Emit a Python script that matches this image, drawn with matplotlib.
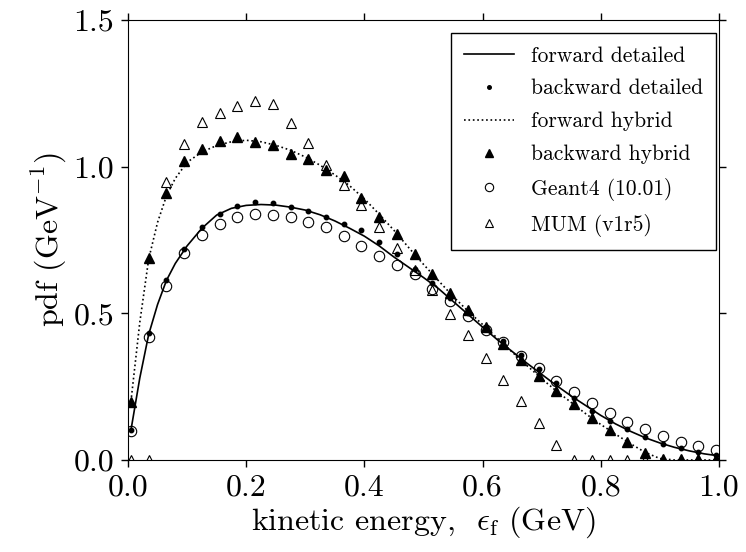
import numpy as np
import matplotlib
matplotlib.use("Agg")
import matplotlib.pyplot as plt

plt.rcParams.update({
    "font.family": "serif",
    "font.serif": ["cmr10"],
    "mathtext.fontset": "cm",
    "axes.unicode_minus": False,
    "axes.formatter.use_mathtext": False,
})

# Kinetic-energy bin centres for the sampled (Monte Carlo) histograms
energy_bins = [0.005 + 0.03 * k for k in range(34)]

backward_detailed = [0.102, 0.432, 0.614, 0.719, 0.796, 0.838, 0.867, 0.881,
                     0.876, 0.861, 0.850, 0.827, 0.805, 0.783, 0.743, 0.702,
                     0.652, 0.603, 0.553, 0.501, 0.452, 0.405, 0.357, 0.310,
                     0.262, 0.210, 0.167, 0.133, 0.105, 0.078, 0.055, 0.040,
                     0.027, 0.018]

backward_hybrid = [0.199, 0.688, 0.910, 1.018, 1.060, 1.087, 1.101, 1.083,
                   1.075, 1.044, 1.026, 0.990, 0.967, 0.893, 0.830, 0.771,
                   0.703, 0.635, 0.568, 0.511, 0.454, 0.397, 0.340, 0.285,
                   0.235, 0.191, 0.144, 0.102, 0.063, 0.023, 0.005, 0.003,
                   0.002, 0.002]

geant4 = [0.100, 0.420, 0.592, 0.705, 0.768, 0.805, 0.830, 0.838,
          0.836, 0.828, 0.813, 0.794, 0.762, 0.731, 0.697, 0.666,
          0.634, 0.584, 0.543, 0.491, 0.444, 0.402, 0.355, 0.315,
          0.271, 0.232, 0.195, 0.160, 0.131, 0.105, 0.082, 0.062,
          0.048, 0.034]

mum = [0.0, 0.0, 0.947, 1.078, 1.151, 1.183, 1.208, 1.225,
       1.214, 1.149, 1.081, 1.007, 0.939, 0.870, 0.796, 0.722,
       0.648, 0.578, 0.499, 0.427, 0.347, 0.273, 0.202, 0.127,
       0.051, 0.0, 0.0, 0.0, 0.0, 0.0, 0.0, 0.0, 0.0, 0.0]

# Deterministic (forward) solutions on a finer energy grid
energy_curve = [0.005, 0.02, 0.035, 0.05, 0.065, 0.08, 0.1, 0.125, 0.15,
                0.175, 0.2, 0.225, 0.25, 0.275, 0.3, 0.325, 0.35, 0.375,
                0.4, 0.425, 0.45, 0.475, 0.5, 0.525, 0.55, 0.575, 0.6,
                0.625, 0.65, 0.675, 0.7, 0.725, 0.75, 0.775, 0.8, 0.825,
                0.85, 0.875, 0.9, 0.925, 0.95, 0.975, 1.0]

forward_detailed = [0.102, 0.28, 0.428, 0.53, 0.612, 0.67, 0.73, 0.79, 0.835,
                    0.858, 0.868, 0.871, 0.869, 0.862, 0.852, 0.836, 0.815,
                    0.79, 0.763, 0.73, 0.692, 0.657, 0.622, 0.585, 0.541,
                    0.497, 0.453, 0.41, 0.37, 0.33, 0.292, 0.254, 0.218,
                    0.185, 0.152, 0.123, 0.098, 0.076, 0.058, 0.043, 0.031,
                    0.021, 0.014]

forward_hybrid = [0.2, 0.47, 0.685, 0.81, 0.9, 0.96, 1.015, 1.05, 1.072,
                  1.085, 1.09, 1.085, 1.073, 1.056, 1.033, 1.005, 0.972,
                  0.935, 0.89, 0.838, 0.783, 0.724, 0.667, 0.612, 0.558,
                  0.508, 0.462, 0.415, 0.368, 0.322, 0.277, 0.235, 0.196,
                  0.157, 0.121, 0.088, 0.056, 0.026, 0.005, 0.0, 0.0, 0.0,
                  0.0]

x_ticks = [0.0, 0.2, 0.4, 0.6, 0.8, 1.0]
y_ticks = [0.0, 0.5, 1.0, 1.5]

fig = plt.figure(figsize=(7.46, 5.52), dpi=100)
ax = fig.add_axes([128 / 746, 1 - 460 / 552, 591 / 746, 440 / 552])

ax.plot(energy_curve, forward_detailed, "-", color="black", lw=1.2,
        label="forward detailed")
ax.plot(energy_bins, backward_detailed, "o", color="black", ms=3.2,
        label="backward detailed")
ax.plot(energy_curve, forward_hybrid, ":", color="black", lw=1.2,
        label="forward hybrid")
ax.plot(energy_bins, backward_hybrid, "^", color="black", ms=7,
        label="backward hybrid")
ax.plot(energy_bins, geant4, "o", mfc="none", mec="black", mew=0.8, ms=7.5,
        label="Geant4 (10.01)")
ax.plot(energy_bins, mum, "^", mfc="none", mec="black", mew=0.8, ms=7.5,
        label="MUM (v1r5)")

ax.set_xlim(0, 1.0)
ax.set_ylim(0, 1.5)
ax.set_xticks(x_ticks)
ax.set_yticks(y_ticks)
ax.set_xticklabels([f"{v:.1f}" for v in x_ticks])
ax.set_yticklabels([f"{v:.1f}" for v in y_ticks])
ax.tick_params(direction="out", length=5, width=1, labelsize=23, pad=5,
               top=True, right=True)

ax.set_xlabel(r"kinetic energy,  $\epsilon_{\mathrm{f}}$ (GeV)", fontsize=23,
              labelpad=2)
ax.set_ylabel(r"pdf (GeV$^{-1}$)", fontsize=23, labelpad=3)

leg = ax.legend(loc="upper right", bbox_to_anchor=(0.995, 0.97),
                borderaxespad=0, fontsize=15.5, fancybox=False, framealpha=1,
                edgecolor="black", handlelength=2.3, handletextpad=0.8,
                labelspacing=0.62, borderpad=0.6, markerscale=0.8,
                numpoints=1)
leg.get_frame().set_linewidth(1.0)

fig.savefig("out.png", dpi=100)
